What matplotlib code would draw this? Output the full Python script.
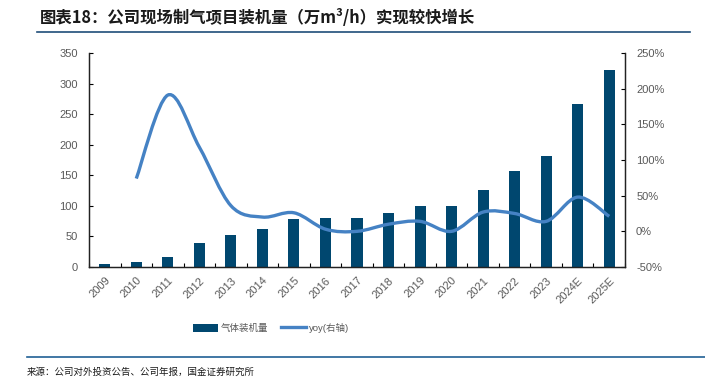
import numpy as np
import matplotlib
matplotlib.use("Agg")
import matplotlib.pyplot as plt
from matplotlib.path import Path
from matplotlib.patches import PathPatch, Patch
from matplotlib.lines import Line2D
from matplotlib import ticker as tick

plt.rcParams['font.family'] = ['Liberation Sans', 'Noto Sans CJK SC', 'DejaVu Sans']

# data
years = ['2009', '2010', '2011', '2012', '2013', '2014', '2015', '2016', '2017',
         '2018', '2019', '2020', '2021', '2022', '2023', '2024E', '2025E']
capacity = [5.5, 7.5, 17, 39, 52, 62, 78, 80, 80, 88, 100, 100, 126, 157, 181, 266, 323]
yoy = [None, 74, 191, 118, 36, 20, 26, 3, 0, 10, 14, 0, 27, 25, 14, 48, 21]

BAR_C = '#00476F'
LINE_C = '#4582C4'
GREY = '#595959'
F = 8

fig = plt.figure(figsize=(7.05, 3.86), dpi=100)
ax1 = fig.add_axes([89/705, 1-267/386, (625-89)/705, (267-53)/386])
ax2 = ax1.twinx()

x = np.arange(len(years))
ax1.bar(x, capacity, width=0.35, color=BAR_C, zorder=2)
ax1.set_xlim(-0.5, len(years)-0.5)
ax1.set_ylim(0, 350)
ax1.yaxis.set_major_locator(tick.MultipleLocator(50))
ax1.set_xticks(x)
ax1.set_xticklabels(years, rotation=45, ha='right', rotation_mode='anchor')
ax1.set_xticks(np.arange(len(years)+1)-0.5, minor=True)
ax1.tick_params(axis='x', which='major', length=0, labelsize=F, labelcolor=GREY, pad=6)
ax1.tick_params(axis='x', which='minor', direction='in', length=3, width=0.8)
ax1.tick_params(axis='y', direction='in', length=3, width=0.8, labelsize=F, labelcolor=GREY, pad=8)

# smoothed yoy line (Bezier through the data points, like Excel's smooth line)
px = [i for i, v in enumerate(yoy) if v is not None]
py = [v for v in yoy if v is not None]
pts = list(zip(px, py))
verts = [pts[0]]
codes = [Path.MOVETO]
for i in range(len(pts)-1):
    p0 = pts[i-1] if i > 0 else pts[i]
    p1 = pts[i]
    p2 = pts[i+1]
    p3 = pts[i+2] if i+2 < len(pts) else pts[i+1]
    c1 = (p1[0] + (p2[0]-p0[0])/6, p1[1] + (p2[1]-p0[1])/6)
    c2 = (p2[0] - (p3[0]-p1[0])/6, p2[1] - (p3[1]-p1[1])/6)
    verts += [c1, c2, p2]
    codes += [Path.CURVE4]*3
ax2.add_patch(PathPatch(Path(verts, codes), fill=False, edgecolor=LINE_C, lw=2.4,
                        capstyle='butt', zorder=3))
ax2.set_ylim(-50, 250)
ax2.yaxis.set_major_locator(tick.MultipleLocator(50))
ax2.yaxis.set_major_formatter(tick.FuncFormatter(lambda v, p: '%d%%' % v))
ax2.tick_params(axis='y', direction='in', length=3, width=0.8, labelsize=F, labelcolor=GREY, pad=8)

for a in (ax1, ax2):
    a.spines['top'].set_visible(False)
    for s in ('left', 'right', 'bottom'):
        a.spines[s].set_linewidth(0.9)
        a.spines[s].set_color('#222222')

handles = [Patch(facecolor=BAR_C), Line2D([], [], color=LINE_C, lw=2.4)]
fig.legend(handles, ['气体装机量', 'yoy(右轴)'], loc='center', bbox_to_anchor=(271/705, 1-328/386),
           ncol=2, frameon=False, fontsize=6.8, labelcolor=GREY, handlelength=2.6,
           handleheight=0.9, columnspacing=1.4, handletextpad=0.3)

fig.text(40/705, 1-18/386, '图表18：公司现场制气项目装机量（万m³/h）实现较快增长',
         fontsize=11.8, fontweight='bold', color='#1a1a1a', va='center',
         family=['Noto Sans CJK SC', 'DejaVu Sans'])
fig.add_artist(Line2D([37/705, 690/705], [1-32/386]*2, color='#1F4E79', lw=1.2))
fig.add_artist(Line2D([27/705, 1.0], [1-357/386]*2, color='#206095', lw=1.2))
fig.text(27/705, 1-372/386, '来源：公司对外投资公告、公司年报，国金证券研究所',
         fontsize=6.8, color='#1a1a1a', va='center', family=['Noto Sans CJK SC', 'DejaVu Sans'])

fig.savefig('out.png', dpi=100)
